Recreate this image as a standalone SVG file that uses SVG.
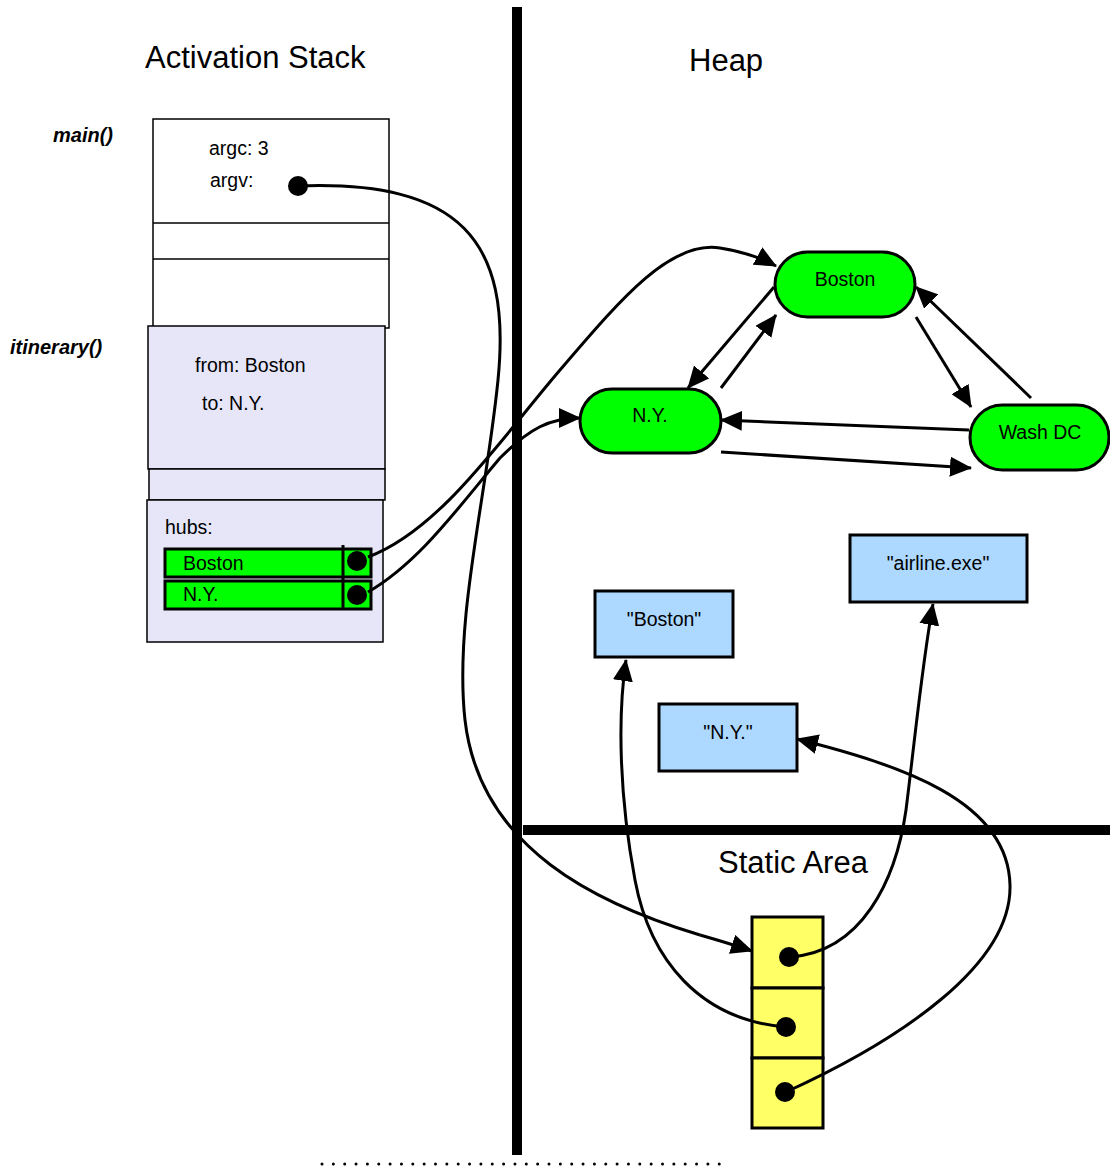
<svg xmlns="http://www.w3.org/2000/svg" width="1110" height="1171" viewBox="0 0 1110 1171">
<defs>
<marker id="ah" viewBox="0 0 22 20" refX="21" refY="10" markerWidth="22" markerHeight="20" markerUnits="userSpaceOnUse" orient="auto">
<path d="M0,0 L22,10 L0,20 Z" fill="#000"/>
</marker>
<style>
text{font-family:"Liberation Sans",Arial,sans-serif;fill:#000}
.t{font-size:31px}
.lbl{font-size:20px;font-weight:bold;font-style:italic}
.s{font-size:19.5px}
.frame{fill:#fff;stroke:#000;stroke-width:1.5}
.lav{fill:#E6E6F8;stroke:#000;stroke-width:1.5}
.green{fill:#00FF00;stroke:#000;stroke-width:3}
.blue{fill:#ADD8FF;stroke:#000;stroke-width:3}
.yel{fill:#FFFF66;stroke:#000;stroke-width:3}
.c{fill:none;stroke:#000;stroke-width:3}
.ca{fill:none;stroke:#000;stroke-width:3;marker-end:url(#ah)}
.wall{stroke:#000;stroke-width:10}
</style>
</defs>
<rect width="1110" height="1171" fill="#fff"/>

<g id="dividers">
<line class="wall" x1="517" y1="7" x2="517" y2="1155"/>
<line class="wall" x1="523" y1="830" x2="1110" y2="830"/>
<line x1="322" y1="1164" x2="720" y2="1164" stroke="#000" stroke-width="3" stroke-linecap="round" stroke-dasharray="0 11.35"/>
</g>

<g id="titles">
<text class="t" x="145" y="68">Activation Stack</text>
<text class="t" x="689" y="71">Heap</text>
<text class="t" x="718" y="873">Static Area</text>
<text class="lbl" x="53" y="142">main()</text>
<text class="lbl" x="10" y="354">itinerary()</text>
</g>

<g id="main-frame">
<rect class="frame" x="153" y="119" width="236" height="209"/>
<line x1="153" y1="223" x2="389" y2="223" stroke="#000" stroke-width="1.5"/>
<line x1="153" y1="259" x2="389" y2="259" stroke="#000" stroke-width="1.5"/>
<text class="s" x="209" y="155">argc: 3</text>
<text class="s" x="210" y="187">argv:</text>
</g>

<g id="itinerary-frame">
<rect class="lav" x="148" y="326" width="237" height="143"/>
<rect class="lav" x="149" y="469" width="236" height="31"/>
<rect class="lav" x="147" y="500" width="236" height="142"/>
<text class="s" x="195" y="372">from: Boston</text>
<text class="s" x="202" y="410">to: N.Y.</text>
<text class="s" x="165" y="534">hubs:</text>
</g>

<g id="hubs-array">
<rect class="green" x="165" y="549" width="206" height="28"/>
<rect class="green" x="165" y="581" width="206" height="28"/>
<line x1="343" y1="545" x2="343" y2="609" stroke="#000" stroke-width="3"/>
<text class="s" x="183" y="570">Boston</text>
<text class="s" x="183" y="601">N.Y.</text>
</g>

<g id="heap-boston">
<rect class="green" x="775" y="252" width="140" height="65" rx="32.5"/>
<text class="s" x="845" y="286" text-anchor="middle">Boston</text>
</g>
<g id="heap-ny">
<rect class="green" x="580" y="389" width="141" height="64" rx="32"/>
<text class="s" x="650" y="422" text-anchor="middle">N.Y.</text>
</g>
<g id="heap-washdc">
<rect class="green" x="970" y="405" width="139" height="65" rx="32.5"/>
<text class="s" x="1040" y="439" text-anchor="middle">Wash DC</text>
</g>

<g id="str-boston">
<rect class="blue" x="595" y="591" width="138" height="66"/>
<text class="s" x="664" y="626" text-anchor="middle">"Boston"</text>
</g>
<g id="str-ny">
<rect class="blue" x="659" y="704" width="138" height="67"/>
<text class="s" x="728" y="739" text-anchor="middle">"N.Y."</text>
</g>
<g id="str-airline">
<rect class="blue" x="850" y="535" width="177" height="67"/>
<text class="s" x="938" y="570" text-anchor="middle">"airline.exe"</text>
</g>

<g id="static-cells">
<rect class="yel" x="752" y="917" width="71" height="71"/>
<rect class="yel" x="752" y="988" width="71" height="70"/>
<rect class="yel" x="752" y="1058" width="71" height="70"/>
</g>

<g id="connectors">
<path class="ca" d="M774,287 L688,388"/>
<path class="ca" d="M721,388 L776,315"/>
<path class="ca" d="M916,317 L971,407"/>
<path class="ca" d="M1031,398 L916,287"/>
<path class="ca" d="M969,430 L721,420"/>
<path class="ca" d="M721,452 L971,468"/>

<path class="c" d="M298,186 C 460,180 512,240 498,380 C 486,500 454,620 465,720 C 480,850 600,905 700,935"/>
<path class="ca" d="M700,935 Q 728,943 752,951"/>

<path class="ca" d="M368,557 C 440,530 500,440 560,370 C 620,300 670,240 720,248 Q 752,253 776,266"/>
<path class="ca" d="M368,592 C 420,562 460,505 500,458 C 530,428 550,418 580,418"/>

<path class="ca" d="M790,957 C 862,952 896,880 906,810 C 916,730 922,665 933,604"/>
<path class="ca" d="M786,1027 C 700,1020 650,960 635,880 C 620,800 617,720 626,660"/>
<path class="ca" d="M786,1092 C 900,1040 1012,965 1010,885 C 1008,800 900,765 797,739"/>
</g>

<g id="dots">
<circle cx="298" cy="186" r="10"/>
<circle cx="357" cy="561" r="10"/>
<circle cx="357" cy="595" r="10"/>
<circle cx="789" cy="957" r="10"/>
<circle cx="786" cy="1027" r="10"/>
<circle cx="785" cy="1092" r="10"/>
</g>
</svg>
